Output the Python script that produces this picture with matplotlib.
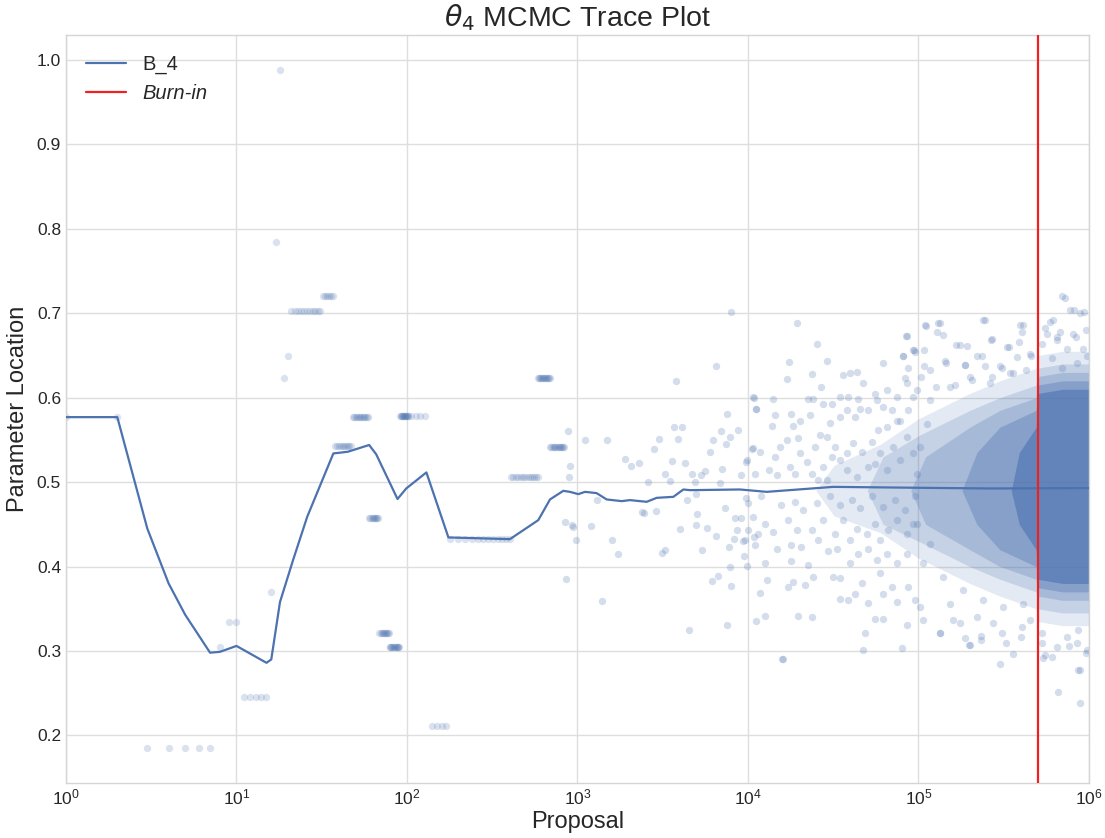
import numpy as np
import matplotlib
matplotlib.use("Agg")
import matplotlib.pyplot as plt

# early chain: runs of repeated values (first proposal, last proposal, step, value)
early_runs = [
    (1, 2, 1, 0.577), (3, 7, 1, 0.185), (8, 8, 1, 0.305), (9, 10, 1, 0.334),
    (11, 15, 1, 0.245), (16, 16, 1, 0.3695), (17, 17, 1, 0.784), (18, 18, 1, 0.988),
    (19, 19, 1, 0.623), (20, 20, 1, 0.650), (21, 31, 1, 0.703), (32, 37, 1, 0.7205),
    (38, 47, 1, 0.543), (48, 59, 1, 0.5775), (60, 68, 1, 0.458), (69, 78, 1, 0.321),
    (79, 90, 1, 0.305), (91, 102, 1, 0.578), (106, 133, 7, 0.578), (140, 170, 10, 0.211),
    (180, 400, 20, 0.4325), (405, 585, 15, 0.506), (590, 686, 8, 0.623), (692, 842, 12, 0.542),
]

# later proposals (after ~850)
cloud_x = [
    883, 902, 890, 1107, 1497, 845, 937, 930, 980, 1195, 1306, 1600, 1740, 1900, 2060,
    2303, 2600, 2820, 3020, 3270, 3500, 3600, 3700, 4100, 3900, 4300, 4400, 3800, 6450,
    7950, 2450, 2900, 2390, 4000, 4950, 5050, 5720, 6450, 5400, 3280, 3120, 7700, 8300,
    8600, 8400, 9100, 4950, 4880, 4700, 5300, 5600, 6200, 5950, 6930, 7450, 7830, 8750,
    7500, 7000, 9100, 6840, 7300, 9870, 10700, 11100, 10600, 10000, 10900, 9800, 9400, 9500,
    859, 1400, 4510, 7550, 6120, 6650, 7950, 7840, 9900,
    19450, 25300, 29200, 17400, 16900, 23600, 26800, 36200, 39600, 43400, 61700, 84100,
    81500, 93300, 10800, 14100, 11100, 22600, 24200, 27700, 31000, 34700, 38800, 44400,
    47500, 55600, 65000, 74400, 85200, 14400, 18000, 20200, 23100, 13800, 18400, 26400,
    28900, 30300, 34700, 37900, 42400, 45400, 50800, 56900, 62300, 69700, 77900, 87200,
    93300, 10700, 9700, 11700, 15400, 14400, 16900, 19700, 20200, 22100, 24700, 17600,
    13200, 11000, 14700, 18900, 23600, 27700, 31000, 32400, 34700, 37900, 41500, 46400,
    53100, 55600, 59400, 65000, 71100, 77900, 85200, 93300, 97500, 74400, 65000, 58100,
    50800, 43400, 37900, 28900, 25800,
    10000, 12000, 15700, 18900, 21100, 25300, 30300, 34700, 40500, 45400, 53100, 62300,
    72800, 83400, 95300, 10700, 12600, 14100, 11500, 9600, 11000, 17200, 19300, 23600,
    25800, 27700, 32400, 36200, 39600, 43400, 49700, 55600, 59400, 66500, 74400, 85200,
    93300, 14700, 18000, 20600, 29600, 33100, 39600, 44400, 50800, 56900, 65000, 74400,
    85200, 12600, 18000, 22600, 24200, 12900, 11700, 17200, 18400, 21600, 31600, 34700,
    34700, 38700, 42400, 46400, 50800, 59400, 62300, 69700, 74400, 87200, 95300, 11200,
    19700, 23600, 55600, 62300, 48500, 85200, 47000, 79600, 16000, 15800, 12600,
    109000, 131000, 140000, 175000, 238000, 268000, 329000, 394000, 403000, 451000,
    95300, 143000, 219000, 187000, 117000, 301000, 377000, 692000, 773000, 885000,
    617000, 552000, 646000, 809000, 528000, 739000, 927000, 604000, 692000, 845000,
    968000, 134000, 200000, 234000, 301000, 360000, 308000, 403000, 107000, 160000,
    102000, 175000, 528000, 552000, 646000, 739000, 845000, 885000, 661000, 885000,
    865000, 968000, 97500, 117000, 153000, 200000, 262000, 344000, 112000, 102000,
    97500, 117000, 107000, 140000, 183000, 240000, 314000, 412000, 153000, 219000,
    275000, 451000, 133000, 188000, 199000, 232000, 325000, 401000, 611000, 539000,
    531000, 762000, 967000, 857000,
    85400, 110000, 129000, 134000, 244000, 271000, 167000, 192000, 93700, 108000,
    81500, 145000, 235000, 340000, 391000, 413000, 87300, 108000, 187000, 247000,
    311000, 459000, 83400, 103000, 126000, 163000, 205000, 271000, 357000, 429000,
    728000, 818000, 938000, 592000, 680000, 838000, 565000, 649000, 960000,
]
cloud_y = [
    0.560, 0.519, 0.506, 0.550, 0.550, 0.453, 0.447, 0.449, 0.432, 0.448, 0.479, 0.431, 0.415, 0.528, 0.519,
    0.523, 0.500, 0.539, 0.551, 0.510, 0.501, 0.525, 0.565, 0.565, 0.551, 0.5225, 0.479, 0.620, 0.638,
    0.7015, 0.464, 0.466, 0.465, 0.444, 0.449, 0.462, 0.446, 0.436, 0.420, 0.420, 0.416, 0.423, 0.433,
    0.443, 0.457, 0.457, 0.4855, 0.500, 0.510, 0.509, 0.513, 0.550, 0.536, 0.560, 0.5447, 0.5537, 0.5616,
    0.5806, 0.515, 0.508, 0.4985, 0.469, 0.526, 0.6008, 0.587, 0.539, 0.443, 0.4345, 0.4807, 0.4305, 0.412,
    0.385, 0.3596, 0.325, 0.331, 0.383, 0.389, 0.377, 0.399, 0.401,
    0.688, 0.664, 0.644, 0.642, 0.622, 0.628, 0.613, 0.627, 0.629, 0.631, 0.641, 0.673,
    0.650, 0.656, 0.600, 0.599, 0.587, 0.599, 0.599, 0.593, 0.593, 0.601, 0.601, 0.599,
    0.617, 0.604, 0.609, 0.601, 0.617, 0.579, 0.581, 0.573, 0.579, 0.566, 0.566, 0.556,
    0.554, 0.570, 0.577, 0.585, 0.577, 0.587, 0.585, 0.597, 0.589, 0.585, 0.573, 0.585,
    0.601, 0.540, 0.524, 0.536, 0.542, 0.530, 0.550, 0.552, 0.534, 0.524, 0.542, 0.518,
    0.514, 0.510, 0.508, 0.510, 0.510, 0.518, 0.530, 0.542, 0.526, 0.534, 0.546, 0.536,
    0.548, 0.522, 0.534, 0.514, 0.542, 0.526, 0.554, 0.534, 0.510, 0.573, 0.565, 0.562,
    0.518, 0.506, 0.514, 0.502, 0.502,
    0.475, 0.483, 0.473, 0.477, 0.467, 0.475, 0.483, 0.473, 0.479, 0.469, 0.483, 0.471,
    0.479, 0.467, 0.483, 0.459, 0.451, 0.441, 0.439, 0.431, 0.425, 0.455, 0.443, 0.443,
    0.431, 0.455, 0.439, 0.455, 0.431, 0.445, 0.439, 0.451, 0.431, 0.443, 0.455, 0.439,
    0.451, 0.421, 0.425, 0.423, 0.419, 0.421, 0.404, 0.415, 0.421, 0.408, 0.415, 0.404,
    0.415, 0.404, 0.406, 0.402, 0.388, 0.384, 0.369, 0.376, 0.382, 0.378, 0.388, 0.386,
    0.362, 0.360, 0.368, 0.380, 0.357, 0.392, 0.368, 0.376, 0.358, 0.376, 0.360, 0.336,
    0.341, 0.340, 0.338, 0.338, 0.321, 0.331, 0.301, 0.303, 0.290, 0.290, 0.3415,
    0.686, 0.688, 0.674, 0.662, 0.692, 0.668, 0.660, 0.686, 0.678, 0.652,
    0.654, 0.643, 0.650, 0.639, 0.633, 0.637, 0.648, 0.720, 0.704, 0.700,
    0.692, 0.682, 0.672, 0.676, 0.664, 0.658, 0.658, 0.647, 0.635, 0.641,
    0.649, 0.321, 0.307, 0.313, 0.285, 0.297, 0.321, 0.329, 0.337, 0.337,
    0.352, 0.333, 0.321, 0.295, 0.305, 0.317, 0.309, 0.277, 0.252, 0.238,
    0.325, 0.301, 0.609, 0.597, 0.613, 0.625, 0.617, 0.629, 0.569, 0.542,
    0.451, 0.427, 0.404, 0.388, 0.372, 0.360, 0.352, 0.356, 0.356, 0.340,
    0.333, 0.337, 0.3217, 0.3157, 0.307, 0.3178, 0.309, 0.317, 0.2933, 0.2913,
    0.309, 0.306, 0.2973, 0.2775,
    0.673, 0.685, 0.678, 0.688, 0.692, 0.670, 0.662, 0.661, 0.656, 0.656,
    0.650, 0.641, 0.649, 0.660, 0.666, 0.686, 0.635, 0.637, 0.639, 0.637,
    0.635, 0.649, 0.623, 0.625, 0.613, 0.615, 0.621, 0.625, 0.629, 0.633,
    0.718, 0.704, 0.701, 0.690, 0.678, 0.672, 0.676, 0.668, 0.680,
]

# density envelopes of the heavily sampled tail: proposal, lower and upper bound per layer
band_x = [
    [2.5e4, 3.2e4, 6e4, 1e5, 2e5, 3e5, 4.9e5, 5e5, 7e5, 1e6],
    [5e4, 6.2e4, 1e5, 2e5, 3e5, 4.9e5, 5e5, 7e5, 1e6],
    [9e4, 1.1e5, 2e5, 3e5, 4.9e5, 5e5, 7e5, 1e6],
    [1.8e5, 2.2e5, 3e5, 4.9e5, 5e5, 7e5, 1e6],
    [3.5e5, 3.9e5, 4.9e5, 5e5, 7e5, 1e6],
]
band_lo = [
    [0.49, 0.46, 0.44, 0.41, 0.38, 0.365, 0.35, 0.335, 0.33, 0.33],
    [0.49, 0.45, 0.43, 0.40, 0.385, 0.37, 0.35, 0.345, 0.345],
    [0.49, 0.45, 0.42, 0.40, 0.385, 0.365, 0.36, 0.36],
    [0.49, 0.45, 0.42, 0.40, 0.375, 0.37, 0.37],
    [0.49, 0.45, 0.42, 0.385, 0.38, 0.38],
]
band_hi = [
    [0.49, 0.52, 0.545, 0.575, 0.605, 0.62, 0.635, 0.65, 0.655, 0.655],
    [0.49, 0.53, 0.555, 0.585, 0.60, 0.615, 0.635, 0.64, 0.64],
    [0.49, 0.53, 0.565, 0.585, 0.60, 0.625, 0.63, 0.63],
    [0.49, 0.535, 0.565, 0.585, 0.615, 0.62, 0.62],
    [0.49, 0.535, 0.565, 0.605, 0.61, 0.61],
]
band_alpha = [0.15, 0.2, 0.25, 0.35, 0.6]

# running mean of the parameter
mean_x = [1, 2, 3, 4, 5, 7, 8, 10, 15, 16, 18, 21.5, 26, 37, 45, 60, 66, 88, 99, 130,
          175, 402, 589, 690, 826, 903, 1011, 1107, 1295, 1483, 1815, 2032, 2547, 2913,
          3650, 4180, 4571, 8980, 12870, 31660, 102000, 263000, 1000000]
mean_y = [0.577, 0.577, 0.445, 0.380, 0.343, 0.298, 0.299, 0.306, 0.286, 0.290, 0.358,
          0.408, 0.459, 0.534, 0.536, 0.544, 0.533, 0.480, 0.4925, 0.5115, 0.4345, 0.4325,
          0.455, 0.4795, 0.4897, 0.4885, 0.4858, 0.4885, 0.487, 0.4795, 0.4775, 0.4787,
          0.4767, 0.4814, 0.4826, 0.4913, 0.4905, 0.4913, 0.4885, 0.4944, 0.4933, 0.4925,
          0.493]

burn_in = 5e5

plt.style.use("seaborn-v0_8-whitegrid")
plt.rcParams["font.family"] = ["Liberation Sans", "DejaVu Sans"]

blue = "#4C72B0"

fig = plt.figure(figsize=(11.05, 8.38), dpi=100)
ax = fig.add_axes([0.0597, 0.0656, 0.9258, 0.8926])

run_x, run_y = [], []
for start, stop, step, val in early_runs:
    idx = np.arange(start, stop + 1, step)
    run_x.extend(idx)
    run_y.extend([val] * len(idx))

for bx, lo, hi, a in zip(band_x, band_lo, band_hi, band_alpha):
    ax.fill_between(bx, lo, hi, color=blue, alpha=a, linewidth=0, zorder=1)

ax.scatter(run_x, run_y, s=28, color=blue, alpha=0.2, linewidths=0, zorder=2)
ax.scatter(cloud_x, cloud_y, s=28, color=blue, alpha=0.24, linewidths=0, zorder=2)

ax.plot(mean_x, mean_y, color=blue, lw=1.6, label="B_4", zorder=3)
ax.axvline(burn_in, color="#f02020", lw=1.6, label="Burn-in", zorder=4)

ax.set_xscale("log")
ax.set_xlim(1, 1e6)
ax.set_ylim(0.1436, 1.0296)
ax.set_yticks(np.arange(0.2, 1.01, 0.1))
ax.yaxis.set_major_formatter(plt.FormatStrFormatter("%.1f"))
ax.tick_params(labelsize=12.5, colors="#262626")
ax.grid(True, color="#dedede", lw=1)
for sp in ax.spines.values():
    sp.set_color("#d5d5d5")

ax.set_xlabel("Proposal", fontsize=17, labelpad=2)
ax.set_ylabel("Parameter Location", fontsize=17, labelpad=6)
ax.set_title(r"$\theta_4$ MCMC Trace Plot", fontsize=20.5, pad=6)

leg = ax.legend(loc="upper left", fontsize=14.5, frameon=False, handlelength=2.0,
                handletextpad=0.8, borderaxespad=0.6)
leg.get_texts()[1].set_style("italic")

fig.savefig("out.png", dpi=100)
